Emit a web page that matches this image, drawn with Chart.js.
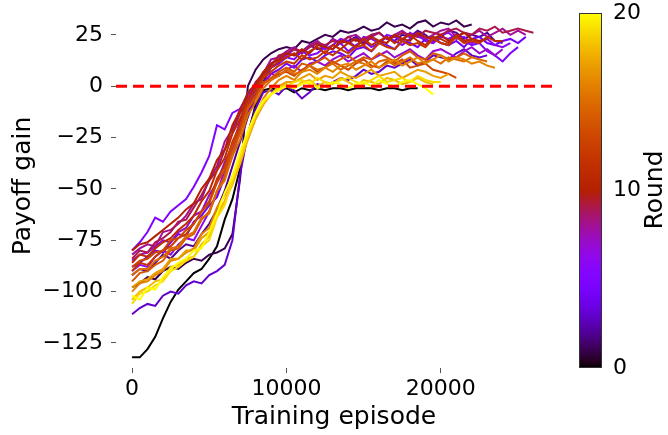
<!DOCTYPE html>
<html lang="en">
<head>
<meta charset="UTF-8">
<title>Payoff gain per round</title>
<script src="https://cdn.jsdelivr.net/npm/chart.js"></script>
<style>
  html, body { margin: 0; padding: 0; background: #fff; }
  #wrap { width: 668px; height: 435px; }
</style>
</head>
<body>
<div id="wrap"><canvas id="payoffChart" width="668" height="435"></canvas></div>
<script>
// training episodes at which the payoff gain was logged
const episodes = [0, 500, 1000, 1500, 2000, 2500, 3000, 3500, 4000, 4500, 5000, 5500, 6000, 6500, 7000, 7500,
  8000, 8500, 9000, 9500, 10000, 10500, 11000, 11500, 12000, 12500, 13000, 13500, 14000, 14500, 15000, 15500,
  16000, 16500, 17000, 17500, 18000, 18500, 19000, 19500, 20000, 20500, 21000, 21500, 22000, 22500, 23000,
  23500, 24000, 24500, 25000, 25500, 26000];

// payoff gain curves, one per round
const round0 = [-132, -132, -128, -122, -113, -105, -99, -95, -91, -89, -84, -78, -65, -55, -40, -24, -9, -2, -1, -2, -1, -3, -1, -2, -1, -2, -1, -1, -2, -1, -1, -1, -2, -1, -1, -2, -1, -1];
const round1 = [-98, -96, -93, -94, -90, -88, -89, -86, -84, -85, -82, -81, -79, -72, -45, 0, 8, 13, 16, 18, 19, 18, 22, 21, 23, 25, 24, 27, 26, 27, 29, 27, 28, 31, 29, 30, 28, 31, 32, 29, 31, 30, 32, 29, 30];
const round2 = [-92, -89, -90, -86, -82, -84, -80, -77, -78, -72, -67, -60, -51, -39, -27, -15, -5, 2, 9, 12, 16, 15, 17, 20, 18, 19, 23, 21, 22, 24, 21, 25, 26, 23, 22, 25, 24, 27, 25, 22, 24, 27, 26, 23, 25, 24, 26, 22, 21];
const round3 = [-111, -108, -106, -107, -102, -100, -101, -97, -95, -96, -92, -90, -87, -75, -43, -23, -11, -3, -2, -4, 0, -2, -6, -3, 1, 0, 2, 4, 3, 5, 8, 6, 7, 10, 9, 11, 13, 10, 12, 15, 14, 13, 16, 18, 15, 14, 15];
const round4 = [-88, -86, -83, -80, -81, -76, -72, -73, -66, -63, -58, -54, -44, -34, -21, -13, -4, 1, 6, 8, 11, 9, 13, 14, 12, 15, 17, 16, 14, 18, 19, 17, 21, 20, 18, 22, 21, 19, 23, 24, 21, 20, 22, 19, 23, 24, 21, 20, 22, 23, 21, 24];
const round5 = [-80, -76, -71, -64, -66, -61, -58, -55, -49, -42, -34, -19, -21, -13, -11, -4, 0, 4, 9, 11, 14, 13, 17, 15, 16, 19, 18, 21, 17, 20, 22, 19, 21, 24, 22, 20, 23, 25, 22, 21, 24, 23, 25, 22, 20, 21, 17, 15, 12, 16, 19];
const round6 = [-90, -87, -88, -83, -80, -82, -77, -74, -75, -68, -61, -52, -41, -31, -19, -9, -1, 4, 11, 13, 15, 18, 16, 19, 21, 18, 20, 23, 22, 19, 24, 23, 21, 25, 24, 22, 26, 24, 23, 21, 25, 26, 23, 24, 21, 22, 23, 20, 19, 21];
const round7 = [-85, -82, -81, -78, -75, -76, -71, -69, -63, -61, -53, -47, -37, -29, -17, -10, -2, 1, 6, 5, 8, 10, 7, 11, 12, 10, 13, 15, 12, 14, 16, 13, 15, 17, 14, 16, 18, 15, 13, 17, 18, 16, 14, 17, 19, 16, 18, 15, 18];
const round8 = [-82, -79, -77, -78, -71, -70, -67, -63, -57, -55, -45, -39, -27, -21, -11, -6, 2, 6, 13, 14, 17, 19, 16, 20, 22, 19, 23, 21, 24, 25, 22, 24, 26, 23, 25, 27, 24, 26, 23, 25, 27, 28, 24, 26, 25, 27, 24, 26, 28, 25, 27, 25];
const round9 = [-84, -80, -81, -76, -74, -71, -66, -65, -59, -53, -46, -41, -31, -23, -13, -7, 0, 6, 10, 15, 16, 18, 17, 19, 21, 20, 22, 21, 24, 22, 23, 25, 26, 23, 24, 26, 25, 24, 27, 26, 25, 27, 28, 26, 25, 28, 27, 29, 26, 27, 28, 27, 26];
const round10 = [-80, -77, -76, -73, -70, -67, -64, -60, -57, -50, -45, -36, -31, -19, -12, -3, 1, 7, 11, 13, 16, 15, 18, 16, 20, 19, 18, 22, 21, 23, 20, 24, 22, 21, 25, 23, 22, 26, 24, 23, 25, 22, 24, 26, 23, 22, 23];
const round11 = [-86, -82, -83, -79, -76, -74, -70, -67, -63, -56, -51, -41, -35, -23, -16, -6, -1, 5, 9, 12, 14, 16, 13, 17, 19, 16, 20, 18, 21, 19, 23, 20, 22, 24, 21, 23, 25, 22, 20, 24, 23, 21, 25, 22, 23, 21, 24, 22, 22];
const round12 = [-90, -86, -87, -83, -80, -78, -74, -72, -67, -61, -56, -45, -39, -27, -19, -8, -3, 4, 7, 10, 12, 11, 15, 13, 14, 17, 15, 18, 16, 19, 20, 17, 21, 19, 18, 22, 20, 21, 19, 23, 21, 20, 24, 21, 22, 21];
const round13 = [-88, -85, -84, -81, -80, -75, -74, -70, -67, -61, -57, -47, -41, -29, -21, -10, -5, 2, 3, 6, 7, 5, 8, 10, 7, 9, 12, 10, 8, 11, 13, 10, 9, 12, 11, 13, 9, 10, 11, 8, 7, 6, 4];
const round14 = [-95, -91, -90, -87, -85, -80, -79, -74, -72, -65, -61, -51, -44, -32, -23, -11, -6, 1, 4, 7, 9, 7, 11, 10, 12, 14, 11, 13, 15, 12, 14, 13, 16, 14, 12, 15, 17, 14, 13, 16, 15, 13, 14, 16, 14];
const round15 = [-92, -89, -89, -85, -83, -79, -78, -73, -71, -64, -62, -51, -46, -34, -26, -14, -8, -1, 3, 5, 8, 6, 7, 10, 8, 9, 11, 8, 10, 12, 11, 9, 12, 13, 10, 12, 14, 11, 12, 13, 11, 14, 13, 12, 14, 13, 12];
const round16 = [-100, -96, -95, -92, -90, -85, -84, -81, -79, -72, -69, -59, -53, -44, -35, -23, -14, -6, -1, 3, 5, 3, 7, 8, 6, 9, 7, 10, 11, 8, 10, 12, 9, 11, 13, 10, 12, 14, 11, 13, 15, 12, 14, 13, 11, 12, 10, 9];
const round17 = [-98, -95, -94, -91, -89, -84, -84, -80, -80, -74, -71, -62, -56, -47, -38, -26, -16, -9, -4, 0, 2, 2, 4, 6, 3, 5, 4, 7, 5, 4, 6, 8, 5, 6, 7, 4, 6, 8, 7, 5, 4, 6];
const round18 = [-104, -100, -98, -95, -94, -88, -87, -84, -83, -77, -73, -63, -56, -48, -37, -25, -15, -8, -4, -1, 1, -1, 2, 3, 0, 2, 1, 4, 2, 0, 3, 2, 1, 4, 3, 1, 2, 4, 2, 1];
const round19 = [-106, -101, -100, -97, -95, -90, -88, -85, -83, -78, -75, -64, -58, -46, -35, -24, -14, -8, -4, -1, 0, 2, 3, 1, 4, 2, 1, 3, 4, 2, 1, 3, 5, 2, 3, 4, 2, 5, 3, 2, 2];
const round20 = [-102, -104, -98, -99, -93, -89, -86, -84, -80, -79, -71, -62, -52, -44, -32, -22, -13, -7, -4, -2, 0, -1, 1, 2, -1, 0, 2, 1, -1, 1, 2, 0, 3, 1, 0, 2, 3, 1, -1, -4];

const rounds = [round0, round1, round2, round3, round4, round5, round6, round7, round8, round9, round10,
  round11, round12, round13, round14, round15, round16, round17, round18, round19, round20];

const xTicks = [0, 10000, 20000];
const yTicks = [-125, -100, -75, -50, -25, 0, 25];
const colorbarTicks = [0, 10, 20];
const baselineValue = 0;

const xMin = -1040, xMax = 27200;
const yMin = -137.2, yMax = 40;
const FONT = 'DejaVu Sans';

// matplotlib "gnuplot" colormap
function gnuplot(t) {
  const r = Math.sqrt(t);
  const g = t * t * t;
  const b = Math.max(0, Math.sin(2 * Math.PI * t));
  return `rgb(${Math.round(r * 255)},${Math.round(g * 255)},${Math.round(b * 255)})`;
}

function fmt(v) {
  return v < 0 ? '\u2212' + Math.abs(v) : String(v);
}

const lastRound = rounds.length - 1;

const datasets = rounds.map((vals, r) => ({
  label: 'Round ' + r,
  data: vals.map((v, i) => ({ x: episodes[i], y: v })),
  borderColor: gnuplot(r / lastRound),
  borderWidth: 2,
  pointRadius: 0,
  tension: 0,
  order: rounds.length - r
}));

// red dashed reference line at zero gain
datasets.push({
  label: 'baseline',
  data: [{ x: xMin, y: baselineValue }, { x: xMax, y: baselineValue }],
  borderColor: '#ff0000',
  borderWidth: 3,
  borderDash: [11, 6],
  pointRadius: 0,
  order: 0
});

// vertical colour bar for the round number
const colorbar = {
  id: 'colorbar',
  afterDraw(chart) {
    const ctx = chart.ctx;
    const x0 = 579, w = 23, top = 13, bottom = 368;
    const grad = ctx.createLinearGradient(0, bottom, 0, top);
    for (let i = 0; i <= 64; i++) grad.addColorStop(i / 64, gnuplot(i / 64));
    ctx.save();
    ctx.fillStyle = grad;
    ctx.fillRect(x0, top, w, bottom - top);
    ctx.strokeStyle = '#333';
    ctx.lineWidth = 1;
    ctx.strokeRect(x0 + 0.5, top + 0.5, w - 1, bottom - top - 1);

    ctx.fillStyle = '#000';
    ctx.font = `22px "${FONT}"`;
    ctx.textAlign = 'left';
    ctx.textBaseline = 'middle';
    colorbarTicks.forEach(v => {
      const y = bottom - (v / lastRound) * (bottom - top);
      ctx.fillText(String(v), 613, y);
    });

    ctx.font = `25px "${FONT}"`;
    ctx.translate(655, 190);
    ctx.rotate(-Math.PI / 2);
    ctx.textAlign = 'center';
    ctx.fillText('Round', 0, 0);
    ctx.restore();
  }
};

new Chart(document.getElementById('payoffChart'), {
  type: 'line',
  data: { datasets },
  options: {
    responsive: false,
    devicePixelRatio: 1,
    animation: false,
    layout: { padding: { top: 4, right: 116, bottom: 0, left: 0 } },
    plugins: { legend: { display: false }, tooltip: { enabled: false } },
    scales: {
      x: {
        type: 'linear',
        min: xMin,
        max: xMax,
        afterFit: s => { s.height = 67; s.paddingLeft = 0; s.paddingRight = 0; },
        afterBuildTicks: s => { s.ticks = xTicks.map(v => ({ value: v })); },
        grid: { drawOnChartArea: false, drawTicks: true, tickLength: 5, color: '#555' },
        border: { display: false },
        ticks: {
          font: { family: FONT, size: 22 },
          color: '#000',
          padding: 3,
          maxRotation: 0,
          autoSkip: false,
          callback: fmt
        },
        title: {
          display: true,
          text: 'Training episode',
          font: { family: FONT, size: 25 },
          color: '#000',
          padding: { top: 0, bottom: 3 }
        }
      },
      y: {
        type: 'linear',
        min: yMin,
        max: yMax,
        afterFit: s => { s.width = 116; s.paddingTop = 0; s.paddingBottom = 0; },
        afterBuildTicks: s => { s.ticks = yTicks.map(v => ({ value: v })); },
        grid: { drawOnChartArea: false, drawTicks: true, tickLength: 5, color: '#555' },
        border: { display: false },
        ticks: {
          font: { family: FONT, size: 22 },
          color: '#000',
          padding: 8,
          autoSkip: false,
          callback: fmt
        },
        title: {
          display: true,
          text: 'Payoff gain',
          font: { family: FONT, size: 25 },
          color: '#000',
          padding: { top: 8, bottom: 0 }
        }
      }
    }
  },
  plugins: [colorbar]
});
</script>
</body>
</html>
